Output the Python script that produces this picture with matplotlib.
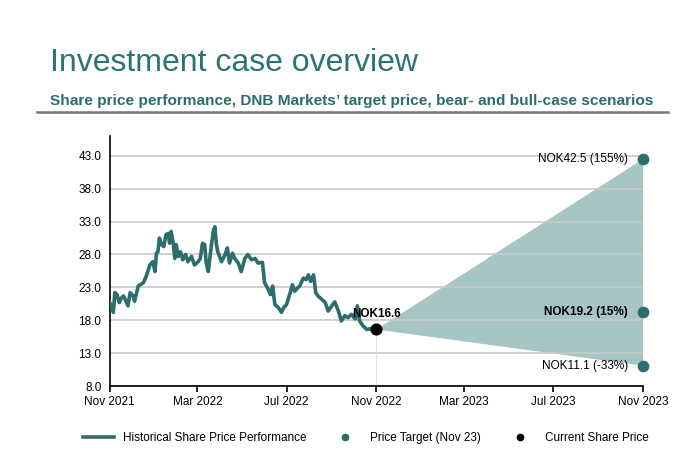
import datetime as dt
import matplotlib
matplotlib.use("Agg")
import matplotlib.pyplot as plt
import matplotlib.dates as mdates
from matplotlib.lines import Line2D

# historical share price (days after 1 Nov 2021, NOK)
hist_days = [0, 5, 7, 10, 13, 16, 19, 23, 25, 28, 32, 34, 39, 46, 50, 55, 59, 62, 64, 66,
             68, 71, 74, 77, 80, 82, 84, 87, 89, 91, 94, 97, 100, 104, 107, 112, 116, 121,
             124, 127, 130, 132, 135, 137, 139, 142, 144, 146, 148, 153, 158, 161, 164, 168,
             171, 176, 180, 185, 189, 194, 199, 203, 209, 212, 217, 220, 223, 226, 231, 235,
             238, 242, 247, 250, 253, 257, 260, 265, 269, 272, 275, 279, 282, 285, 290, 295,
             299, 304, 308, 313, 317, 322, 326, 331, 336, 339, 342, 347, 352, 356, 361, 365]
hist_price = [20.7, 19.2, 22.2, 21.9, 20.7, 21.4, 21.7, 20.7, 20.2, 22.2, 21.7, 20.9, 23.2,
              23.7, 24.7, 26.4, 26.9, 25.4, 28.2, 28.4, 30.5, 29.5, 29.2, 31.0, 31.2, 29.7,
              31.5, 29.7, 27.4, 29.5, 27.7, 28.4, 27.2, 28.0, 26.9, 27.7, 26.4, 26.9, 27.4,
              29.7, 29.5, 26.7, 25.4, 27.4, 29.2, 31.7, 32.2, 29.5, 28.4, 26.9, 28.0, 29.0,
              26.7, 28.2, 27.4, 26.7, 25.4, 27.4, 28.0, 27.2, 27.4, 26.7, 26.8, 23.7, 22.7,
              21.9, 23.2, 20.4, 19.9, 19.2, 19.9, 20.4, 22.2, 23.4, 22.4, 22.9, 23.2, 24.4,
              24.2, 24.9, 23.9, 24.9, 22.2, 21.7, 21.2, 20.7, 19.4, 20.2, 20.8, 19.4, 17.9,
              18.7, 18.4, 18.9, 18.2, 20.2, 17.9, 17.1, 16.6, 16.7, 16.5, 16.6]

current_price = 16.6
targets = [42.5, 19.2, 11.1]
target_labels = ["NOK42.5 (155%)", "NOK19.2 (15%)", "NOK11.1 (-33%)"]
target_bold = [False, True, False]

y_ticks = [8.0, 13.0, 18.0, 23.0, 28.0, 33.0, 38.0, 43.0]

start = dt.datetime(2021, 11, 1)
now = dt.datetime(2022, 11, 1)
target_date = dt.datetime(2023, 11, 1)
dates = [start + dt.timedelta(days=d) for d in hist_days]

teal = "#2C6E6C"
fill_c = "#A6C5C4"
plain = "Liberation Sans"

fig = plt.figure(figsize=(6.9, 4.58), dpi=100)
ax = fig.add_axes([0.159, 0.157, 0.773, 0.546])

# scenario cone
ax.fill([now, target_date, target_date], [current_price, targets[0], targets[2]],
        color=fill_c, lw=0, zorder=1)
ax.plot(dates, hist_price, color=teal, lw=2.6, zorder=3)
ax.plot([now, now], [8, current_price], color="#cfe0df", lw=0.6, zorder=2)
ax.scatter([target_date] * 3, targets, s=55, color=teal, zorder=4, clip_on=False)
ax.scatter([now], [current_price], s=60, color="black", zorder=5)

ax.annotate("NOK16.6", (now, current_price), xytext=(0, 7), textcoords="offset points",
            ha="center", va="bottom", fontsize=8.5, fontweight="bold", family=plain)
for v, lab, b in zip(targets, target_labels, target_bold):
    ax.annotate(lab, (target_date, v), xytext=(-11, 0), textcoords="offset points",
                ha="right", va="center", fontsize=8.5, family=plain,
                fontweight="bold" if b else "normal")

ax.set_ylim(8, 46)
ax.set_xlim(start, target_date)
ax.set_yticks(y_ticks)
ax.set_yticklabels([f"{t:.1f}" for t in y_ticks], family=plain, fontsize=8.5)
ax.xaxis.set_major_locator(mdates.MonthLocator(bymonth=[3, 7, 11]))
ax.xaxis.set_major_formatter(mdates.DateFormatter("%b %Y"))
for lab in ax.get_xticklabels():
    lab.set_family(plain)
    lab.set_fontsize(8.5)
ax.tick_params(axis="y", length=0, pad=6)
ax.tick_params(axis="x", length=4, width=1.2, direction="out", pad=3)
ax.grid(axis="y", color="#c8c8c8", lw=1.2, zorder=0)
for s in ["top", "right"]:
    ax.spines[s].set_visible(False)
for s in ["left", "bottom"]:
    ax.spines[s].set_linewidth(1.2)

fig.text(0.072, 0.845, "Investment case overview", color="#2A7572", fontsize=23,
         family=plain, ha="left", va="baseline")
fig.text(0.072, 0.771, "Share price performance, DNB Markets\u2019 target price, bear- and bull-case scenarios",
         color="#2A6E6C", fontsize=11.1, fontweight="bold", family=plain, ha="left", va="baseline")
fig.add_artist(Line2D([0.054, 0.968], [0.755, 0.755], color="#777777", lw=1.8))

handles = [Line2D([], [], color=teal, lw=2.6),
           Line2D([], [], color=teal, marker="o", ls="", ms=4.5),
           Line2D([], [], color="black", marker="o", ls="", ms=4.5)]
labels = ["Historical Share Price Performance", "Price Target (Nov 23)", "Current Share Price"]
fig.legend(handles, labels, loc="center", bbox_to_anchor=(0.53, 0.043), ncol=3, frameon=False,
           prop={"family": plain, "size": 8.5}, handlelength=2.6, columnspacing=2.0,
           handletextpad=0.8)

fig.savefig("out.png", dpi=100)
